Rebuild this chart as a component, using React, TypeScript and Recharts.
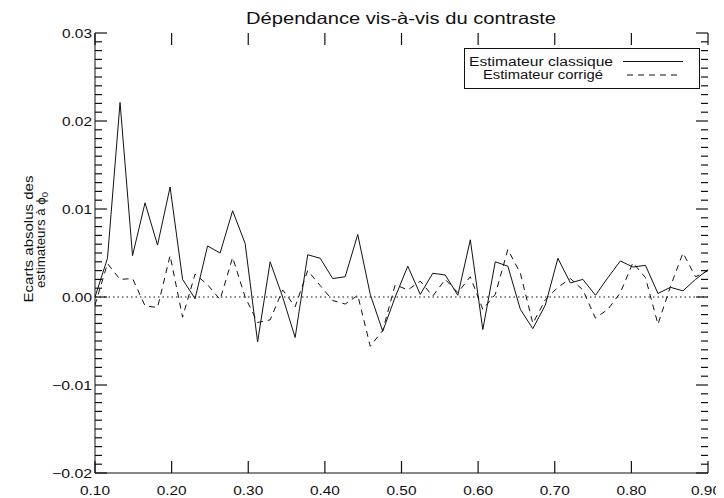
import { Legend, Line, LineChart, ReferenceLine, XAxis, YAxis } from 'recharts';

// contraste (50 points, 0.10 -> 0.90)
const CONTRASTE = [
  0.1, 0.1163, 0.1327, 0.149, 0.1653, 0.1816, 0.198, 0.2143, 0.2306, 0.2469,
  0.2633, 0.2796, 0.2959, 0.3122, 0.3286, 0.3449, 0.3612, 0.3776, 0.3939, 0.4102,
  0.4265, 0.4429, 0.4592, 0.4755, 0.4918, 0.5082, 0.5245, 0.5408, 0.5571, 0.5735,
  0.5898, 0.6061, 0.6224, 0.6388, 0.6551, 0.6714, 0.6878, 0.7041, 0.7204, 0.7367,
  0.7531, 0.7694, 0.7857, 0.802, 0.8184, 0.8347, 0.851, 0.8673, 0.8837, 0.9,
];

const ECART_CLASSIQUE = [
  0.0, 0.0044, 0.0221, 0.0047, 0.0107, 0.0059, 0.0125, 0.002, -0.0002, 0.0058,
  0.005, 0.0098, 0.0061, -0.0051, 0.004, 0.0, -0.0046, 0.0048, 0.0044, 0.0021,
  0.0023, 0.0071, 0.0003, -0.0039, 0.0, 0.0035, 0.0003, 0.0027, 0.0025, 0.0002,
  0.0065, -0.0037, 0.004, 0.0035, -0.0014, -0.0036, -0.0009, 0.0044, 0.0016, 0.002,
  0.0002, 0.0022, 0.0041, 0.0034, 0.0036, 0.0004, 0.0011, 0.0007, 0.002, 0.0031,
];

const ECART_CORRIGE = [
  -0.0009, 0.0038, 0.002, 0.0021, -0.001, -0.0012, 0.0047, -0.0023, 0.0026, 0.0014,
  -0.0003, 0.0045, 0.0, -0.0029, -0.0026, 0.0008, -0.0011, 0.003, 0.0013, -0.0004,
  -0.0008, 0.0002, -0.0056, -0.0038, 0.0014, 0.0008, 0.0018, 0.0001, 0.002, 0.0005,
  0.0023, -0.0014, 0.0003, 0.0054, 0.0027, -0.003, -0.0003, 0.0011, 0.0021, 0.0008,
  -0.0024, -0.0014, 0.0005, 0.0039, 0.0022, -0.0031, 0.0012, 0.005, 0.0023, 0.003,
];

const X_TICKS = [0.1, 0.2, 0.3, 0.4, 0.5, 0.6, 0.7, 0.8, 0.9];
const Y_MAJOR = [-0.02, -0.01, 0, 0.01, 0.02, 0.03];

// minor ticks every 0.001
const Y_MINOR: number[] = [];
for (let i = -20; i <= 30; i++) if (i % 10 !== 0) Y_MINOR.push(i / 1000);

const SERIES = [
  { key: 'classique', name: 'Estimateur classique', dash: undefined as string | undefined },
  { key: 'corrige', name: 'Estimateur corrigé', dash: '6 5' },
];

const data = CONTRASTE.map((c, i) => ({
  contraste: c,
  classique: ECART_CLASSIQUE[i],
  corrige: ECART_CORRIGE[i],
}));

const FONT = '"Liberation Sans", Arial, sans-serif';
const INK = '#111';
const X_DOMAIN: [number, number] = [0.1, 0.9];
const Y_DOMAIN: [number, number] = [-0.02, 0.03];

// chart box (same numbers as the margins / axis sizes below)
const W = 716;
const H = 490;
const M = { top: 25, right: 16, bottom: 0, left: 0 };
const Y_AXIS_W = 87;
const X_AXIS_H = 25;
const PLOT = {
  left: M.left + Y_AXIS_W,
  right: W - M.right,
  top: M.top,
  bottom: H - M.bottom - X_AXIS_H,
};
const sx = (v: number) =>
  PLOT.left + ((v - X_DOMAIN[0]) / (X_DOMAIN[1] - X_DOMAIN[0])) * (PLOT.right - PLOT.left);
const sy = (v: number) =>
  PLOT.bottom - ((v - Y_DOMAIN[0]) / (Y_DOMAIN[1] - Y_DOMAIN[0])) * (PLOT.bottom - PLOT.top);

const MINOR_LEN = 7;
const MAJOR_LEN = 12;

const fmtY = (v: number) => (v < 0 ? '\u2212' : '') + Math.abs(v).toFixed(2);

const LeftLabel = (p: any) => {
  const v = p.payload.value;
  return (
    <text
      x={Number(p.x) - 3}
      y={Number(p.y) + 4.5}
      textAnchor="end"
      fontSize={12.5}
      fontFamily={FONT}
      fill={INK}
      textLength={v < 0 ? 40 : 30}
      lengthAdjust="spacingAndGlyphs"
    >
      {fmtY(v)}
    </text>
  );
};

const BottomLabel = (p: any) => (
  <text
    x={Math.min(Number(p.x), 698)}
    y={Number(p.y) + 22}
    textAnchor="middle"
    fontSize={12.5}
    fontFamily={FONT}
    fill={INK}
    textLength={30}
    lengthAdjust="spacingAndGlyphs"
  >
    {p.payload.value.toFixed(2)}
  </text>
);

const LegendBox = () => (
  <svg width={236} height={41}>
    <rect x={0.5} y={0.5} width={235} height={40} fill="#fff" stroke={INK} />
    <text x={5} y={17.5} fontSize={12.5} fontFamily={FONT} fill={INK} textLength={144} lengthAdjust="spacingAndGlyphs">
      {SERIES[0].name}
    </text>
    <line x1={159} x2={219} y1={13.5} y2={13.5} stroke={INK} />
    <text x={19} y={31} fontSize={12.5} fontFamily={FONT} fill={INK} textLength={120} lengthAdjust="spacingAndGlyphs">
      {SERIES[1].name}
    </text>
    <line x1={163} x2={216} y1={27} y2={27} stroke={INK} strokeDasharray={SERIES[1].dash} />
  </svg>
);

const ids = { xAxisId: 'bottom', yAxisId: 'left' };

// inward tick marks on the four sides of the frame
const FrameTicks = () => {
  const yTicks = [
    ...Y_MINOR.map((v) => ({ v, len: MINOR_LEN })),
    ...Y_MAJOR.map((v) => ({ v, len: MAJOR_LEN })),
  ];
  return (
    <g stroke={INK} strokeWidth={1.2}>
      {yTicks.map(({ v, len }) => (
        <g key={`y${v}`}>
          <line x1={PLOT.left} x2={PLOT.left + len} y1={sy(v)} y2={sy(v)} />
          <line x1={PLOT.right - len} x2={PLOT.right} y1={sy(v)} y2={sy(v)} />
        </g>
      ))}
      {X_TICKS.map((v) => (
        <g key={`x${v}`}>
          <line x1={sx(v)} x2={sx(v)} y1={PLOT.bottom} y2={PLOT.bottom - MAJOR_LEN} />
          <line x1={sx(v)} x2={sx(v)} y1={PLOT.top} y2={PLOT.top + MAJOR_LEN} />
        </g>
      ))}
    </g>
  );
};

export default function App() {
  return (
    <div style={{ position: 'relative', width: W, height: H }}>
      <LineChart width={W} height={H} data={data} margin={M}>
        <XAxis
          xAxisId="bottom"
          dataKey="contraste"
          type="number"
          domain={X_DOMAIN}
          ticks={X_TICKS}
          interval={0}
          height={X_AXIS_H}
          tickSize={0}
          tickMargin={0}
          tickLine={false}
          axisLine={{ stroke: INK }}
          tick={BottomLabel}
        />
        <XAxis
          xAxisId="top"
          orientation="top"
          dataKey="contraste"
          type="number"
          domain={X_DOMAIN}
          height={0}
          tick={false}
          tickLine={false}
          axisLine={{ stroke: INK }}
        />
        <YAxis
          yAxisId="left"
          type="number"
          domain={Y_DOMAIN}
          ticks={Y_MAJOR}
          interval={0}
          width={Y_AXIS_W}
          tickSize={0}
          tickMargin={0}
          tickLine={false}
          axisLine={{ stroke: INK }}
          tick={LeftLabel}
        />
        <YAxis
          yAxisId="right"
          orientation="right"
          type="number"
          domain={Y_DOMAIN}
          width={0}
          tick={false}
          tickLine={false}
          axisLine={{ stroke: INK }}
        />
        <ReferenceLine {...ids} y={0} stroke={INK} strokeDasharray="1.5 3" />
        {SERIES.map((s) => (
          <Line
            key={s.key}
            {...ids}
            dataKey={s.key}
            name={s.name}
            type="linear"
            stroke={INK}
            strokeWidth={1}
            strokeDasharray={s.dash}
            dot={false}
            activeDot={false}
            isAnimationActive={false}
          />
        ))}
        <Legend
          layout="horizontal"
          verticalAlign="middle"
          content={() => <LegendBox />}
          wrapperStyle={{ position: 'absolute', left: 456, top: 40, width: 236, height: 41 }}
        />
      </LineChart>
      <svg
        width={W}
        height={H}
        style={{ position: 'absolute', left: 0, top: 0, pointerEvents: 'none' }}
      >
        <FrameTicks />
        <text
          x={393}
          y={16}
          textAnchor="middle"
          fontSize={16.5}
          fontFamily={FONT}
          fill={INK}
          textLength={310}
          lengthAdjust="spacingAndGlyphs"
        >
          Dépendance vis-à-vis du contraste
        </text>
        <g transform="rotate(-90)" fontSize={12.5} fontFamily={FONT} fill={INK} textAnchor="middle">
          <text x={-231} y={25} textLength={127} lengthAdjust="spacingAndGlyphs">
            Ecarts absolus des
          </text>
          <text x={-232} y={37} textLength={96} lengthAdjust="spacingAndGlyphs">
            estimateurs à ϕ<tspan fontSize={9} dy={2.5}>0</tspan>
          </text>
        </g>
      </svg>
    </div>
  );
}
